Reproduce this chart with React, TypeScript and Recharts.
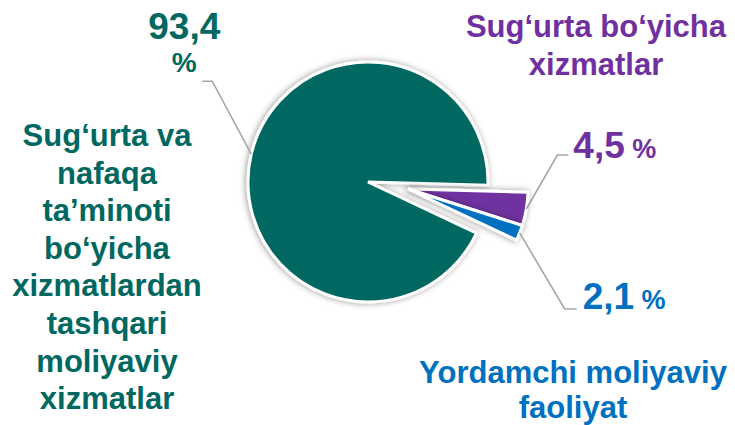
import React from 'react';
import { PieChart, Pie, Cell } from 'recharts';

// category names, split into the lines used on the chart
const categories = [
  ['Sug‘urta bo‘yicha', 'xizmatlar'],
  ['Yordamchi moliyaviy', 'faoliyat'],
  ['Sug‘urta va', 'nafaqa', 'ta’minoti', 'bo‘yicha', 'xizmatlardan', 'tashqari', 'moliyaviy', 'xizmatlar'],
];
const shares = [4.5, 2.1, 93.4];
const colors = ['#7030A0', '#0070C0', '#006860'];
const exploded = [true, true, false];

const data = shares.map((value, i) => ({ name: categories[i].join(' '), value }));

const FONT = '"Liberation Sans", Arial, sans-serif';
const RADIAN = Math.PI / 180;

// leader line elbow / tail and text placement for each slice
const labelLayout = [
  { elbow: [31, -54], tail: 11, value: [5, 3], split: false, name: [596, 37], gap: 38 },
  { elbow: [45, 76], tail: 12, value: [6, 0], split: false, name: [573, 383], gap: 35 },
  { elbow: [-39, -73], tail: -10, value: [-18, -42], split: true, name: [107, 146], gap: 37.6 },
];

const fmt = (v: number) => v.toFixed(1).replace('.', ',');

const makeLabel = (forExploded: boolean) => (props: any) => {
  const { cx, cy, midAngle, outerRadius, index } = props;
  if (exploded[index] !== forExploded) return null;
  const lay = labelLayout[index];
  const color = colors[index];
  const sx = cx + outerRadius * Math.cos(-midAngle * RADIAN);
  const sy = cy + outerRadius * Math.sin(-midAngle * RADIAN);
  const ex = sx + lay.elbow[0];
  const ey = sy + lay.elbow[1];
  const tx = ex + lay.tail;
  const vx = tx + lay.value[0];
  const vy = ey + lay.value[1];

  return (
    <g key={`lbl-${index}`}>
      <polyline
        points={`${sx},${sy} ${ex},${ey} ${tx},${ey}`}
        fill="none"
        stroke="#A6A6A6"
        strokeWidth={1.6}
      />
      {lay.split ? (
        <text x={vx} y={vy} textAnchor="middle" fill={color} fontFamily={FONT} fontWeight="bold">
          <tspan x={vx} fontSize={37}>{fmt(shares[index])}</tspan>
          <tspan x={vx} dy={33} fontSize={28}>%</tspan>
        </text>
      ) : (
        <text x={vx} y={vy} textAnchor="start" fill={color} fontFamily={FONT} fontWeight="bold">
          <tspan fontSize={37}>{fmt(shares[index])}</tspan>
          <tspan fontSize={27}>{' %'}</tspan>
        </text>
      )}
      <text
        x={lay.name[0]}
        y={lay.name[1]}
        textAnchor="middle"
        fill={color}
        fontFamily={FONT}
        fontWeight="bold"
        fontSize={31}
      >
        {categories[index].map((line, i) => (
          <tspan key={i} x={lay.name[0]} dy={i === 0 ? 0 : lay.gap}>
            {line}
          </tspan>
        ))}
      </text>
    </g>
  );
};

export default function App() {
  const cx = 368;
  const cy = 182;
  const explode = { dx: 40, dy: 7 };

  return (
    <div style={{ position: 'absolute', left: 0, top: 0, width: 735, height: 425, background: '#fff' }}>
      <PieChart width={735} height={425} margin={{ top: 0, right: 0, bottom: 0, left: 0 }}>
        <defs>
          <filter id="pieShadow" x="-20%" y="-20%" width="140%" height="140%">
            <feDropShadow dx="-1" dy="0" stdDeviation="3" floodColor="#000" floodOpacity="0.4" />
          </filter>
        </defs>
        <Pie
          data={data}
          dataKey="value"
          cx={cx}
          cy={cy}
          outerRadius={120}
          startAngle={-1.5}
          endAngle={-361.5}
          labelLine={false}
          label={makeLabel(false)}
          isAnimationActive={false}
        >
          {data.map((d, i) => (
            <Cell
              key={d.name}
              fill={exploded[i] ? 'none' : colors[i]}
              stroke={exploded[i] ? 'none' : '#fff'}
              strokeWidth={3}
              filter={exploded[i] ? undefined : 'url(#pieShadow)'}
            />
          ))}
        </Pie>
        <Pie
          data={data}
          dataKey="value"
          cx={cx + explode.dx}
          cy={cy + explode.dy}
          outerRadius={120}
          startAngle={-1.5}
          endAngle={-361.5}
          labelLine={false}
          label={makeLabel(true)}
          isAnimationActive={false}
        >
          {data.map((d, i) => (
            <Cell
              key={d.name}
              fill={exploded[i] ? colors[i] : 'none'}
              stroke={exploded[i] ? '#fff' : 'none'}
              strokeWidth={3}
              filter={exploded[i] ? 'url(#pieShadow)' : undefined}
            />
          ))}
        </Pie>
      </PieChart>
    </div>
  );
}
